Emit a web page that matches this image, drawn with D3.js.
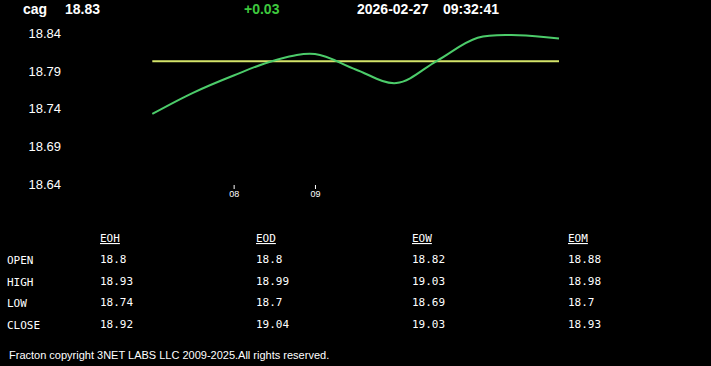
<!DOCTYPE html>
<html><head><meta charset="utf-8">
<script src="https://cdn.jsdelivr.net/npm/d3@7"></script>
<style>
html,body{margin:0;padding:0;background:#000;}
svg{display:block;}
</style></head>
<body>
<svg id="c" width="711" height="366"></svg>
<script>
// ---- data ----
const symbol = "cag";
const lastPrice = "18.83";
const change = "+0.03";
const dateStr = "2026-02-27";
const timeStr = "09:32:41";
const hours = [7.0, 7.5, 8.0, 8.5, 9.0, 9.5, 10.0, 10.5, 11.0, 11.5, 12.0];
const prices = [18.733, 18.761, 18.784, 18.804, 18.8125, 18.792, 18.774, 18.8035, 18.834, 18.8375, 18.833];
const openLevel = 18.803;
const yTicks = [18.64, 18.69, 18.74, 18.79, 18.84];
const xTicks = [8, 9];
const xTickLabels = ["08", "09"];
const tableCols = ["EOH", "EOD", "EOW", "EOM"];
const tableRows = ["OPEN", "HIGH", "LOW", "CLOSE"];
const eoh = ["18.8", "18.93", "18.74", "18.92"];
const eod = ["18.8", "18.99", "18.7", "19.04"];
const eow = ["18.82", "19.03", "18.69", "19.03"];
const eom = ["18.88", "18.98", "18.7", "18.93"];
const footer = "Fracton copyright 3NET LABS LLC 2009-2025.All rights reserved.";

const svg = d3.select("#c");
const x = d3.scaleLinear().domain([7, 12]).range([152.3, 559]);
const y = d3.scaleLinear().domain([18.64, 18.84]).range([184, 33.3]);

// header
const hdr = svg.append("g").attr("font-family", "Liberation Sans, Arial, sans-serif")
  .attr("font-weight", "bold").attr("font-size", 14).attr("fill", "#fff");
hdr.append("text").attr("x", 23).attr("y", 14).text(symbol);
hdr.append("text").attr("x", 65).attr("y", 14).text(lastPrice);
hdr.append("text").attr("x", 244).attr("y", 14).attr("fill", "#3ec93e").text(change);
hdr.append("text").attr("x", 357).attr("y", 14).text(dateStr);
hdr.append("text").attr("x", 443).attr("y", 14).text(timeStr);

// y axis labels
svg.append("g").selectAll("text").data(yTicks).join("text")
  .attr("x", 61).attr("y", d => y(d)).attr("dy", "0.35em")
  .attr("text-anchor", "end").attr("fill", "#fff")
  .attr("font-family", "Liberation Sans, Arial, sans-serif").attr("font-size", 13)
  .text(d => d3.format(".2f")(d));

// x axis
const xa = svg.append("g").attr("transform", "translate(0,185)")
  .call(d3.axisBottom(x).tickValues(xTicks).tickFormat((d, i) => xTickLabels[i]).tickSize(4).tickPadding(2));
xa.select(".domain").remove();
xa.selectAll("line").attr("stroke", "#fff");
xa.selectAll("text").attr("fill", "#fff").attr("font-size", 9).attr("font-family", "Liberation Sans, Arial, sans-serif");

// open level
svg.append("line").attr("x1", x(7)).attr("x2", x(12)).attr("y1", y(openLevel)).attr("y2", y(openLevel))
  .attr("stroke", "#d4e46a").attr("stroke-width", 2);

// price line
const line = d3.line().x((d, i) => x(hours[i])).y(d => y(d)).curve(d3.curveCatmullRom.alpha(0.5));
svg.append("path").datum(prices).attr("d", line).attr("fill", "none")
  .attr("stroke", "#4ccc6a").attr("stroke-width", 2);

// table
const tbl = svg.append("g").attr("font-family", "DejaVu Sans Mono, Liberation Mono, monospace")
  .attr("font-size", 11).attr("fill", "#fff");
const colX = [100, 256, 412, 568];
const rowY = [263, 285, 306, 328];
const colData = [eoh, eod, eow, eom];
tableCols.forEach((c, i) => {
  tbl.append("text").attr("x", colX[i]).attr("y", 242).attr("text-decoration", "underline").text(c);
  colData[i].forEach((v, j) => tbl.append("text").attr("x", colX[i]).attr("y", rowY[j]).text(v));
});
tableRows.forEach((r, j) => tbl.append("text").attr("x", 7).attr("y", rowY[j] + 1).text(r));

// footer
svg.append("text").attr("x", 9).attr("y", 359).attr("fill", "#fff")
  .attr("font-family", "Liberation Sans, Arial, sans-serif").attr("font-size", 11).text(footer);
</script>
</body></html>
